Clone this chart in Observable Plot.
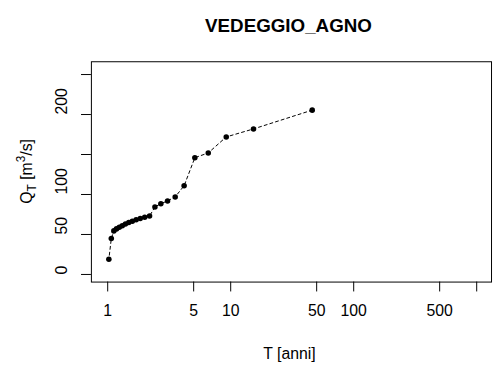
<!DOCTYPE html>
<html>
<head>
<meta charset="utf-8">
<script src="https://cdn.jsdelivr.net/npm/d3@7"></script>
<script src="https://cdn.jsdelivr.net/npm/@observablehq/plot@0.6"></script>
<style>
  html, body { margin: 0; padding: 0; background: #fff; overflow: hidden; width: 494px; height: 374px; }
  #chart svg { display: block; }
</style>
</head>
<body>
<div id="chart"></div>
<script>
// Return periods T [anni]
const returnPeriods = [46, 15.33, 9.2, 6.571, 5.111, 4.182, 3.538, 3.067, 2.706, 2.421, 2.19, 2.0,
  1.84, 1.704, 1.586, 1.484, 1.394, 1.314, 1.243, 1.179, 1.122, 1.07, 1.022];
// Discharges Q_T [m^3/s]
const discharges = [205.5, 182, 172, 152, 146, 111, 97, 92, 88.5, 84.5, 73, 71.5,
  70, 68.5, 66.5, 65, 63, 61, 59, 57, 54.5, 45, 19];
// Tick labels
const xTicks = [1, 5, 10, 50, 100, 500, 1000];
const xTickLabels = ["1", "5", "10", "50", "100", "500", ""];
const yTicks = [0, 50, 100, 150, 200, 250];
const yTickLabels = ["0", "50", "100", "", "200", ""];
const titleText = "VEDEGGIO_AGNO";
const xTitle = "T [anni]";

const data = returnPeriods.map((t, i) => ({T: t, Q: discharges[i]}));
const xLab = xTicks.map((t, i) => ({t, label: xTickLabels[i]})).filter(d => d.label);
const yLab = yTicks.map((t, i) => ({t, label: yTickLabels[i]})).filter(d => d.label);

const font = "'Liberation Sans', Arial, Helvetica, sans-serif";

const chart = Plot.plot({
  width: 500,
  height: 374,
  marginLeft: 92,
  marginRight: 3,
  marginTop: 62,
  marginBottom: 89,
  style: {fontFamily: font, fontSize: "16px", color: "black", background: "white"},
  x: {type: "log", domain: [0.737, 1320]},
  y: {domain: [-9.5, 266]},
  marks: [
    Plot.frame({stroke: "black", strokeWidth: 1}),
    Plot.axisX(xTicks, {tickSize: 10, tickFormat: () => "", label: null, strokeWidth: 1}),
    Plot.axisY(yTicks, {tickSize: 10, tickFormat: () => "", label: null, strokeWidth: 1}),
    Plot.text(xLab, {x: "t", text: "label", frameAnchor: "bottom", dy: 34, fontSize: 16, fill: "black"}),
    Plot.text(yLab, {y: "t", text: "label", frameAnchor: "left", dx: -30, rotate: -90, fontSize: 16, fill: "black"}),
    Plot.line(data, {x: "T", y: "Q", stroke: "black", strokeWidth: 1, strokeDasharray: "3,3"}),
    Plot.dot(data, {x: "T", y: "Q", r: 2.8, fill: "black"})
  ]
});

const svg = d3.select(chart);
svg.append("text")
  .attr("x", 292).attr("y", 32)
  .attr("text-anchor", "middle")
  .attr("font-family", font).attr("font-size", 19).attr("font-weight", "bold")
  .attr("fill", "black")
  .text(titleText);
svg.append("text")
  .attr("x", 293).attr("y", 363)
  .attr("text-anchor", "middle")
  .attr("font-family", font).attr("font-size", 16)
  .attr("fill", "black")
  .text(xTitle);
const yt = svg.append("text")
  .attr("transform", "translate(32,173.5) rotate(-90)")
  .attr("text-anchor", "middle")
  .attr("font-family", font).attr("font-size", 16)
  .attr("fill", "black");
yt.append("tspan").text("Q");
yt.append("tspan").attr("font-size", 12).attr("dy", 4).text("T");
yt.append("tspan").attr("dy", -4).text(" [m");
yt.append("tspan").attr("font-size", 12).attr("dy", -7).text("3");
yt.append("tspan").attr("dy", 7).text("/s]");

document.getElementById("chart").appendChild(chart);
</script>
</body>
</html>
